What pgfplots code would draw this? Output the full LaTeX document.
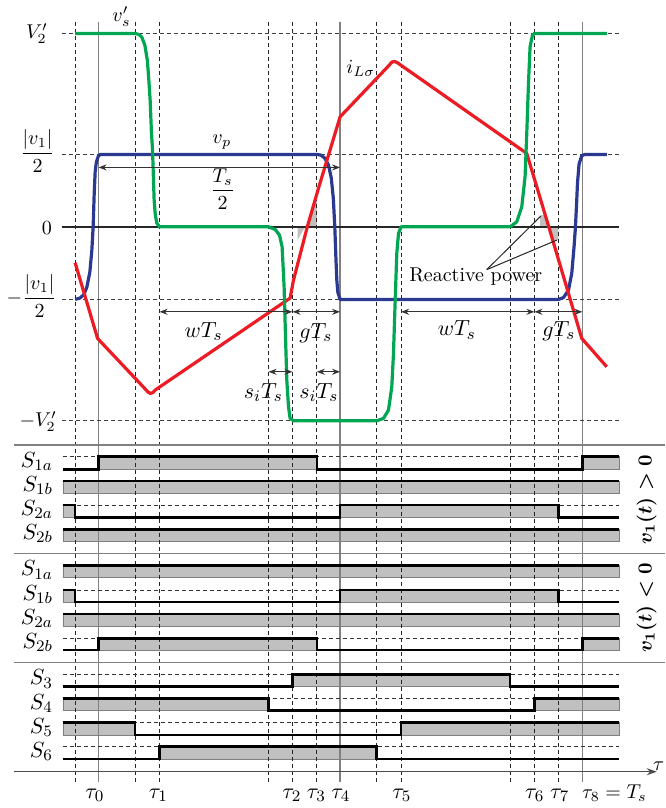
\documentclass[border=0pt]{standalone}
\usepackage{amsmath}
\usepackage{pgfplots}
\pgfplotsset{compat=1.18}
\usetikzlibrary{arrows.meta}
\definecolor{cred}{HTML}{ED1C24}
\definecolor{cgreen}{HTML}{00A651}
\definecolor{cblue}{HTML}{2B3990}
\definecolor{sgray}{HTML}{C0C0C0}
\tikzset{
  vdashed/.style={black!85, line width=0.55pt, dash pattern=on 2pt off 1.5pt},
  hdashed/.style={black!75, line width=0.5pt, dash pattern=on 2pt off 1.5pt},
  sig/.style={black, line width=1.3pt, line join=miter},
  arr/.style={black!80, line width=0.6pt, >={Stealth[length=4pt,width=3pt]}, <->},
  axarr/.style={black!70, line width=0.6pt, >={Stealth[length=5pt,width=3.5pt]}, ->},
  big/.style={font=\fontsize{11}{13}\selectfont},
}
\newcommand{\hib}[4]{\addplot[fill=sgray, draw=gray, line width=0.3pt] coordinates {(#1,#3)(#2,#3)(#2,#4)(#1,#4)(#1,#3)};}
\newcommand{\hidash}[1]{\addplot[black!80, line width=0.45pt, dash pattern=on 2pt off 1.5pt] coordinates {(56,#1)(612.7,#1)};}
\newcommand{\vln}[1]{\addplot[vdashed] coordinates {(#1,21.7)(#1,782)};}
\newcommand{\vsl}[1]{\addplot[gray, line width=0.65pt] coordinates {(#1,21.7)(#1,782)};}
\begin{document}
\begin{tikzpicture}
\begin{axis}[
  scale only axis, width=329pt, height=404pt,
  xmin=0, xmax=658, ymin=0, ymax=808, y dir=reverse,
  hide axis, clip=false, at={(0,0)}, anchor=south west,
]
\addplot[draw=none] coordinates {(0,0)(658,808)};
\hib{91.7}{310}{456.7}{469.3}
\hib{575.7}{612.7}{456.7}{469.3}
\hib{56}{612.7}{481}{493}
\hib{56}{68.3}{505}{517.3}
\hib{333.3}{551.7}{505}{517.3}
\hib{56}{612.7}{529.3}{541}
\hib{56}{612.7}{565.7}{577.5}
\hib{56}{68.3}{590}{602}
\hib{333.3}{551.7}{590}{602}
\hib{56}{612.7}{614}{626}
\hib{91.7}{310}{638.3}{650}
\hib{575.7}{612.7}{638.3}{650}
\hib{285.7}{503.3}{674.3}{686.3}
\hib{56}{261.7}{698.7}{710.7}
\hib{527.7}{612.7}{698.7}{710.7}
\hib{56}{128.3}{722.7}{735}
\hib{394.3}{612.7}{722.7}{735}
\hib{152.7}{370}{746.7}{759}
\addplot[fill=sgray, draw=none] coordinates {(290.7,226.7)(298.5,226.7)(290.7,240)};
\addplot[fill=sgray, draw=none] coordinates {(300.5,226.7)(310,226.7)(310,200)(308.5,200)};
\addplot[fill=sgray, draw=none] coordinates {(533.3,227.3)(533.3,215)(538.5,215)(542,227.3)};
\addplot[fill=sgray, draw=none] coordinates {(542,227.3)(551.7,227.3)(551.7,240)(545.5,240)};
\vln{68.3}\vln{128.3}\vln{152.7}\vln{261.7}\vln{285.7}\vln{310}
\vln{370}\vln{394.3}\vln{503.3}\vln{527.7}\vln{551.7}
\vsl{91.7}\vsl{333.3}\vsl{575.7}
\addplot[hdashed] coordinates {(55,33.3)(612.7,33.3)};
\addplot[hdashed] coordinates {(55,154.3)(612.7,154.3)};
\addplot[hdashed] coordinates {(55,299.3)(612.7,299.3)};
\addplot[hdashed] coordinates {(55,420.7)(612.7,420.7)};
\addplot[black!85, line width=1pt] coordinates {(55,226.7)(612.7,226.7)};
\addplot[gray, line width=0.6pt] coordinates {(7,445)(658,445)};
\addplot[gray, line width=0.6pt] coordinates {(7,553.3)(658,553.3)};
\addplot[gray, line width=0.6pt] coordinates {(7,662.3)(658,662.3)};
\addplot[axarr] coordinates {(7,771.7)(650,771.7)};
\hidash{456.7}\hidash{505}\hidash{590}\hidash{638.3}
\hidash{674.3}\hidash{698.7}\hidash{722.7}\hidash{746.7}
\addplot[sig] coordinates {(56,469.3)(91.7,469.3)(91.7,456.7)(310,456.7)(310,469.3)(575.7,469.3)(575.7,456.7)(612.7,456.7)};
\addplot[sig] coordinates {(56,481)(612.7,481)};
\addplot[sig] coordinates {(56,505)(68.3,505)(68.3,517.3)(333.3,517.3)(333.3,505)(551.7,505)(551.7,517.3)(612.7,517.3)};
\addplot[sig] coordinates {(56,529.3)(612.7,529.3)};
\addplot[sig] coordinates {(56,565.7)(612.7,565.7)};
\addplot[sig] coordinates {(56,590)(68.3,590)(68.3,602)(333.3,602)(333.3,590)(551.7,590)(551.7,602)(612.7,602)};
\addplot[sig] coordinates {(56,614)(612.7,614)};
\addplot[sig] coordinates {(56,650)(91.7,650)(91.7,638.3)(310,638.3)(310,650)(575.7,650)(575.7,638.3)(612.7,638.3)};
\addplot[sig] coordinates {(56,686.3)(285.7,686.3)(285.7,674.3)(503.3,674.3)(503.3,686.3)(612.7,686.3)};
\addplot[sig] coordinates {(56,698.7)(261.7,698.7)(261.7,710.7)(527.7,710.7)(527.7,698.7)(612.7,698.7)};
\addplot[sig] coordinates {(56,722.7)(128.3,722.7)(128.3,735)(394.3,735)(394.3,722.7)(612.7,722.7)};
\addplot[sig] coordinates {(56,759)(152.7,759)(152.7,746.7)(370,746.7)(370,759)(612.7,759)};
\addplot[cblue, line width=1.6pt, line join=round] coordinates {(68.3,299.3)(73,298)(77,294.5)(80,287)(83,272)(85,250)(86.3,226.7)(87.3,195)(88.3,172)(89.5,162)(91.5,156)(93.3,154.3)(310,154.3)(314,155)(318,158)(321.7,165)(324.5,178)(326.5,198)(328,226.7)(329,255)(330,280)(331,292)(333.3,299.3)(551.7,299.3)(556.7,297.5)(561.7,290)(565,273.3)(567.3,246.7)(568.7,226.7)(570,200)(570.7,183.3)(572.3,164)(575,155.5)(578.3,154.3)(600,154.3)};
\addplot[cred, line width=1.6pt, line join=round] coordinates {(68.3,262.7)(90.7,338.3)(138,388.5)(141,391.8)(143.5,393.3)(146,392.5)(149,389.5)(283.3,298)(286.7,280)(300.5,226.7)(311.7,188)(333.3,116.7)(382,65.5)(385,62)(387.5,61.2)(390.5,62.5)(520,153.3)(543.3,231)(575,338.3)(600,366.7)};
\addplot[cgreen, line width=1.6pt, line join=round] coordinates {(68.3,33.3)(128.3,33.3)(132,34.3)(135,37)(138,45)(140.5,60)(142,80)(143.3,100)(144.5,130)(145.7,150)(146.5,175)(147.3,200)(148.5,215)(150,223)(152.7,226.7)(261.7,226.7)(268.3,229.3)(272.7,235)(275.3,246.7)(277.3,286.7)(278.7,336.7)(280,380)(281.7,406.7)(283.3,418.3)(286.7,420.7)(370,420.7)(376.7,418.3)(381.7,410)(385,386.7)(386.7,353.3)(388.3,303.3)(390,253.3)(391.7,233.3)(394.3,226.7)(503.3,226.7)(510,221.7)(515,206.7)(518.3,176.7)(520,133.3)(521.7,83.3)(523.3,46.7)(525.7,35)(527.7,33.3)(600,33.3)};
\addplot[arr] coordinates {(91.7,167.3)(333.3,167.3)};
\addplot[arr] coordinates {(152.7,311.7)(285.7,311.7)};
\addplot[arr] coordinates {(285.7,311.7)(333.3,311.7)};
\addplot[arr] coordinates {(394.3,311.7)(527.7,311.7)};
\addplot[arr] coordinates {(527.7,311.7)(575.7,311.7)};
\addplot[arr] coordinates {(261.7,371.7)(285.7,371.7)};
\addplot[arr] coordinates {(310,371.7)(333.3,371.7)};
\addplot[black!85, line width=0.5pt] coordinates {(480,269.5)(534,216)};
\addplot[black!85, line width=0.5pt] coordinates {(480,269.5)(550,240)};
\end{axis}
\begin{scope}[x=0.5pt, y=-0.5pt, shift={(0pt,404pt)}]
\node at (114.7,16.5) {$v_s'$};
\node at (215,142) {$v_p$};
\node at (354,68) {$i_{L\sigma}$};
\node at (215.8,189) {$\dfrac{T_s}{2}$};
\node[big] at (196.7,331.5) {$wT_s$};
\node[big] at (309,333) {$gT_s$};
\node[big] at (450,330) {$wT_s$};
\node[big] at (552,331) {$gT_s$};
\node[big] at (256.5,392.5) {$s_iT_s$};
\node[big] at (312,392.5) {$s_iT_s$};
\node[anchor=base, inner sep=0pt] at (469,281.7) {Reactive power};
\node[anchor=east] at (48,33.3) {$V_2'$};
\node[anchor=east] at (55,151) {$\dfrac{\lvert v_1\rvert}{2}$};
\node[anchor=east] at (52,228) {$0$};
\node[anchor=east] at (57,296) {$-\dfrac{\lvert v_1\rvert}{2}$};
\node[anchor=east] at (57,421.7) {$-V_2'$};
\node[big, anchor=east] at (53,461.5) {$S_{1a}$};
\node[big, anchor=east] at (53,485.5) {$S_{1b}$};
\node[big, anchor=east] at (53,509.5) {$S_{2a}$};
\node[big, anchor=east] at (53,533.5) {$S_{2b}$};
\node[big, anchor=east] at (53,570) {$S_{1a}$};
\node[big, anchor=east] at (53,594.5) {$S_{1b}$};
\node[big, anchor=east] at (53,618.5) {$S_{2a}$};
\node[big, anchor=east] at (53,642.5) {$S_{2b}$};
\node[big, anchor=east] at (53,679) {$S_3$};
\node[big, anchor=east] at (53,703.5) {$S_4$};
\node[big, anchor=east] at (53,727.5) {$S_5$};
\node[big, anchor=east] at (53,751.5) {$S_6$};
\node[rotate=90] at (640,500) {$\boldsymbol{v_1(t)>0}$};
\node[rotate=90] at (640,608) {$\boldsymbol{v_1(t)<0}$};
\node[big, anchor=base] at (88,798) {$\tau_0$};
\node[big, anchor=base] at (151.5,798) {$\tau_1$};
\node[big, anchor=base] at (285,798) {$\tau_2$};
\node[big, anchor=base] at (309.5,798) {$\tau_3$};
\node[big, anchor=base] at (334,798) {$\tau_4$};
\node[big, anchor=base] at (395,798) {$\tau_5$};
\node[big, anchor=base] at (528,798) {$\tau_6$};
\node[big, anchor=base] at (553,798) {$\tau_7$};
\node[anchor=base west, inner sep=0pt] at (575,798) {$\tau_8 = T_s$};
\node[anchor=west, inner sep=0pt] at (646,766) {$\tau$};
\end{scope}
\end{tikzpicture}
\end{document}
